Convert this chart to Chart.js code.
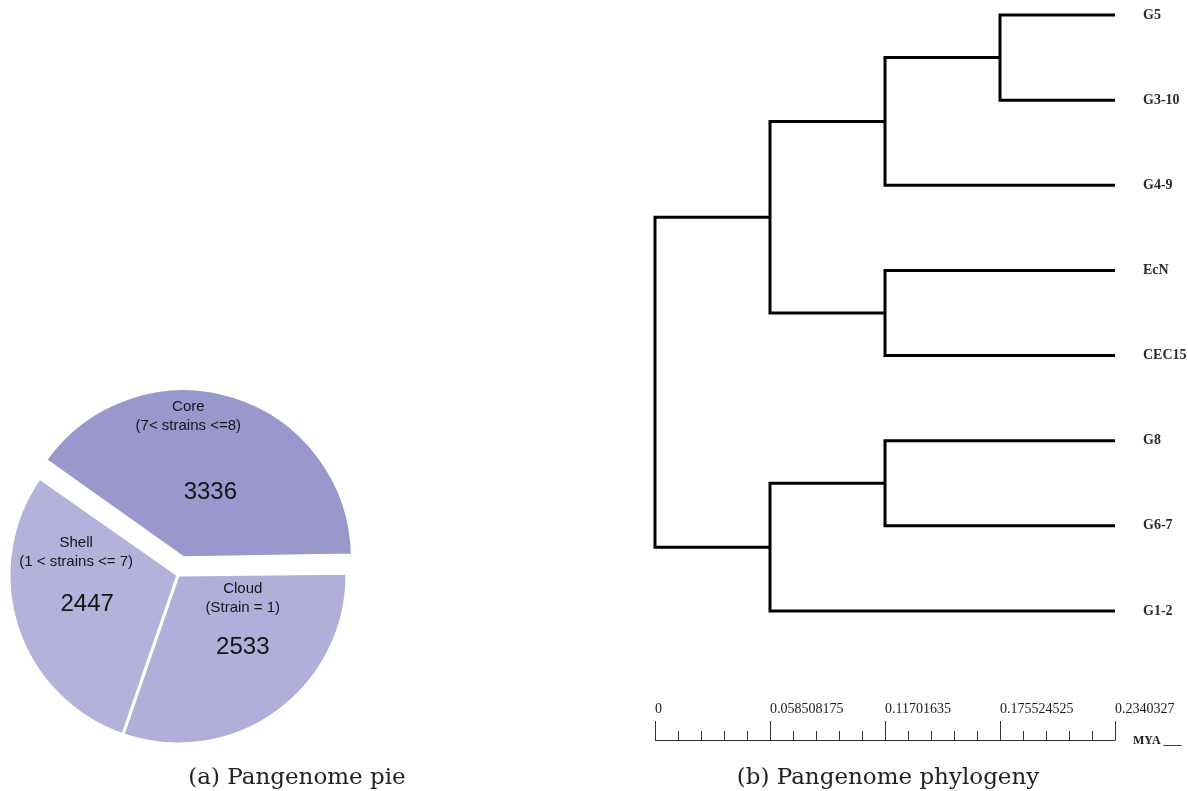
<!DOCTYPE html>
<html>
<head>
<meta charset="utf-8">
<script src="https://cdn.jsdelivr.net/npm/chart.js@4.4.1/dist/chart.umd.min.js"></script>
<style>
  html, body { margin: 0; padding: 0; background: #fff; }
  body { width: 1188px; height: 791px; position: relative; overflow: hidden; }
  #pie { position: absolute; left: 0; top: 375px; }
  #tree { position: absolute; left: 640px; top: 0; }
  .cap { position: absolute; top: 763px; font-family: "DejaVu Serif", serif; font-size: 23px; color: #222; white-space: nowrap; transform: translateX(-50%); }
</style>
</head>
<body>
<canvas id="pie" width="376" height="400"></canvas>
<canvas id="tree" width="548" height="760"></canvas>
<div class="cap" style="left:297px">(a) Pangenome pie</div>
<div class="cap" style="left:888px">(b) Pangenome phylogeny</div>
<script>
// pie data (clockwise from upper left)
const groups = ['Core', 'Cloud', 'Shell'];
const groupRule = ['(7< strains <=8)', '(Strain = 1)', '(1 < strains <= 7)'];
const geneCounts = [3336, 2533, 2447];

// tree data
const leafNames = ['G5', 'G3-10', 'G4-9', 'EcN', 'CEC15', 'G8', 'G6-7', 'G1-2'];
const tipDepth = 0.2340327;
const nodeIds = ['n1', 'n2', 'n3', 'n4', 'n5', 'n6', 'root'];
const nodeLeft = ['G5', 'n1', 'EcN', 'n2', 'G8', 'n5', 'n4'];
const nodeRight = ['G3-10', 'G4-9', 'CEC15', 'n3', 'G6-7', 'G1-2', 'n6'];
const nodeDepth = [0.175524525, 0.11701635, 0.11701635, 0.058508175, 0.11701635, 0.058508175, 0];
const scaleTicks = [0, 0.058508175, 0.11701635, 0.175524525, 0.2340327];

// ---- pie ----
// label placement along each slice's bisector (k = fraction of radius)
const labelLayout = [
  {k: 0.42, nx: 6, ny: 2, tx: -22, ty: -85},
  {k: 0.575, nx: 8, ny: -6, tx: 0, ty: -59},
  {k: 0.565, nx: 0, ny: 0, tx: -11, ty: -62}
];

// chart.js grows an offset arc's radius a bit, undo that so the slice stays the same size
const keepRadius = {
  id: 'keepRadius',
  afterDatasetUpdate(chart, args) {
    args.meta.data.forEach(arc => {
      const off = (arc.options.offset || 0) / 4;
      const fix = 1 - Math.sin(Math.min(Math.PI, arc.circumference || 0));
      arc.outerRadius -= off * fix;
    });
  }
};

const pieLabels = {
  id: 'pieLabels',
  afterDatasetsDraw(chart) {
    const ctx = chart.ctx;
    const meta = chart.getDatasetMeta(0);
    ctx.save();
    ctx.fillStyle = '#151515';
    ctx.textAlign = 'center';
    ctx.textBaseline = 'middle';
    meta.data.forEach((arc, i) => {
      const p = arc.getProps(['x', 'y', 'startAngle', 'endAngle'], true);
      // arc element moves by offset / 4
      const off = (arc.options.offset || 0) / 4;
      const mid = (p.startAngle + p.endAngle) / 2;
      const cx = p.x + Math.cos(mid) * off;
      const cy = p.y + Math.sin(mid) * off;
      const r = chart.getDatasetMeta(0).controller.outerRadius;
      const L = labelLayout[i];
      const nx = cx + Math.cos(mid) * r * L.k + L.nx;
      const ny = cy + Math.sin(mid) * r * L.k + L.ny;
      ctx.font = '24px "Liberation Sans", Arial, sans-serif';
      ctx.fillText(String(geneCounts[i]), nx, ny);
      ctx.font = '15px "Liberation Sans", Arial, sans-serif';
      ctx.fillText(groups[i], nx + L.tx, ny + L.ty);
      ctx.fillText(groupRule[i], nx + L.tx, ny + L.ty + 19);
    });
    ctx.restore();
  }
};

new Chart(document.getElementById('pie'), {
  type: 'pie',
  data: {
    labels: groups,
    datasets: [{
      data: geneCounts,
      backgroundColor: ['#9997cb', '#b1aed9', '#b4b1db'],
      borderColor: '#ffffff',
      borderWidth: 3,
      offset: [72, 0, 0]
    }]
  },
  options: {
    responsive: false,
    animation: false,
    rotation: -55,
    radius: 169,
    layout: { padding: { right: 20 } },
    plugins: { legend: { display: false }, tooltip: { enabled: false } }
  },
  plugins: [keepRadius, pieLabels]
});

// ---- dendrogram ----
const pos = {};
leafNames.forEach((n, i) => { pos[n] = {x: tipDepth, y: i}; });
const branchSets = nodeIds.map((id, i) => {
  const a = pos[nodeLeft[i]];
  const b = pos[nodeRight[i]];
  const d = nodeDepth[i];
  pos[id] = {x: d, y: (a.y + b.y) / 2};
  return {
    data: [{x: a.x, y: a.y}, {x: d, y: a.y}, {x: d, y: b.y}, {x: b.x, y: b.y}],
    showLine: true,
    borderColor: '#000',
    borderWidth: 3,
    borderJoinStyle: 'miter',
    pointRadius: 0,
    clip: false
  };
});

const scaleBar = {
  id: 'scaleBar',
  afterDraw(chart) {
    const ctx = chart.ctx;
    const xs = chart.scales.x;
    const base = chart.chartArea.bottom + 129;
    const x0 = xs.getPixelForValue(scaleTicks[0]);
    const x1 = xs.getPixelForValue(scaleTicks[scaleTicks.length - 1]);
    ctx.save();
    ctx.strokeStyle = '#333';
    ctx.lineWidth = 1;
    ctx.beginPath();
    ctx.moveTo(x0, base + 0.5);
    ctx.lineTo(x1, base + 0.5);
    const step = (scaleTicks[1] - scaleTicks[0]) / 5;
    for (let k = 0; k <= (scaleTicks.length - 1) * 5; k++) {
      const px = Math.round(xs.getPixelForValue(k * step)) + 0.5;
      ctx.moveTo(px, base + 0.5);
      ctx.lineTo(px, base - (k % 5 === 0 ? 19 : 9));
    }
    ctx.stroke();
    ctx.fillStyle = '#1a1a1a';
    ctx.font = '14px "Liberation Serif", "Times New Roman", serif';
    ctx.textAlign = 'left';
    ctx.textBaseline = 'middle';
    scaleTicks.forEach(v => ctx.fillText(String(v), xs.getPixelForValue(v), base - 31));
    ctx.font = 'bold 12px "Liberation Serif", "Times New Roman", serif';
    ctx.fillText('MYA ___', x1 + 18, base + 1);
    ctx.restore();
  }
};

new Chart(document.getElementById('tree'), {
  type: 'scatter',
  data: { datasets: branchSets },
  options: {
    responsive: false,
    animation: false,
    layout: { padding: { left: 15, top: 15, right: 0, bottom: 149 } },
    scales: {
      x: { type: 'linear', min: 0, max: tipDepth, display: false },
      y: {
        type: 'linear',
        position: 'right',
        reverse: true,
        min: 0,
        max: leafNames.length - 1,
        grid: { display: false, drawTicks: false },
        border: { display: false },
        afterFit: (scale) => {
          scale.width = 73;
          scale.paddingTop = 0;
          scale.paddingBottom = 0;
        },
        ticks: {
          stepSize: 1,
          padding: 28,
          color: '#2a2a2a',
          font: { family: '"Liberation Serif", "Times New Roman", serif', size: 14, weight: 'bold' },
          callback: (v) => leafNames[v]
        }
      }
    },
    plugins: { legend: { display: false }, tooltip: { enabled: false } }
  },
  plugins: [scaleBar]
});
</script>
</body>
</html>
